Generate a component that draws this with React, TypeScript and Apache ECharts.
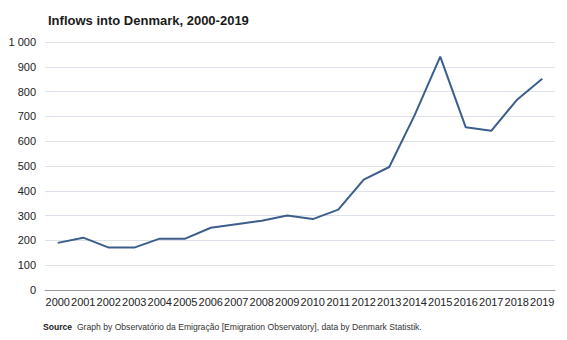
import React, { useEffect, useRef } from "react";
import * as echarts from "echarts";

const years = ["2000","2001","2002","2003","2004","2005","2006","2007","2008","2009","2010","2011","2012","2013","2014","2015","2016","2017","2018","2019"];
const inflows = [190, 211, 171, 171, 207, 207, 251, 265, 279, 300, 286, 324, 445, 496, 706, 941, 656, 642, 766, 852];
const yTicks = [0, 100, 200, 300, 400, 500, 600, 700, 800, 900, 1000];

const titleText = "Inflows into Denmark, 2000-2019";
const sourceText = "Graph by Observatório da Emigração [Emigration Observatory], data by Denmark Statistik.";

export default function App() {
  const ref = useRef<HTMLDivElement>(null);
  useEffect(() => {
    if (!ref.current) return;
    const chart = echarts.init(ref.current, null, { renderer: "svg" });
    const font = "'Liberation Sans', Arial, sans-serif";
    chart.setOption({
      animation: false,
      textStyle: { fontFamily: font },
      grid: { left: 45, right: 12, top: 42, bottom: 50 },
      title: {
        text: titleText,
        left: 43,
        top: 9,
        textStyle: { fontSize: 13, fontWeight: "bold", color: "#1a1a1a", fontFamily: font },
      },
      graphic: [
        {
          type: "text",
          left: 43,
          top: 322,
          style: {
            text: "{b|Source}  " + sourceText,
            rich: {
              b: { fontWeight: "bold", fontSize: 8.6, fill: "#222", fontFamily: font },
            },
            fontSize: 8.6,
            fill: "#333",
            fontFamily: font,
          },
        },
      ],
      xAxis: {
        type: "category",
        data: years,
        boundaryGap: true,
        axisLine: { lineStyle: { color: "#999", width: 1 } },
        axisTick: { show: false },
        axisLabel: {
          interval: 0,
          hideOverlap: false,
          fontSize: 11,
          color: "#222",
          margin: 6,
          fontFamily: font,
        },
      },
      yAxis: {
        type: "value",
        min: yTicks[0],
        max: yTicks[yTicks.length - 1],
        interval: 100,
        axisLine: { show: false },
        axisTick: { show: false },
        splitLine: { lineStyle: { color: "#dde2ea", width: 1 } },
        axisLabel: {
          fontSize: 11,
          color: "#222",
          margin: 9,
          fontFamily: font,
          formatter: (v: number) => (v >= 1000 ? String(v).replace(/\B(?=(\d{3})+(?!\d))/g, " ") : String(v)),
        },
      },
      series: [
        {
          type: "line",
          data: inflows,
          symbol: "none",
          lineStyle: { color: "#3c5e8c", width: 2 },
          itemStyle: { color: "#3c5e8c" },
        },
      ],
    });
    return () => chart.dispose();
  }, []);
  return <div ref={ref} style={{ width: 567, height: 340, position: "absolute", left: 0, top: 0 }} />;
}
